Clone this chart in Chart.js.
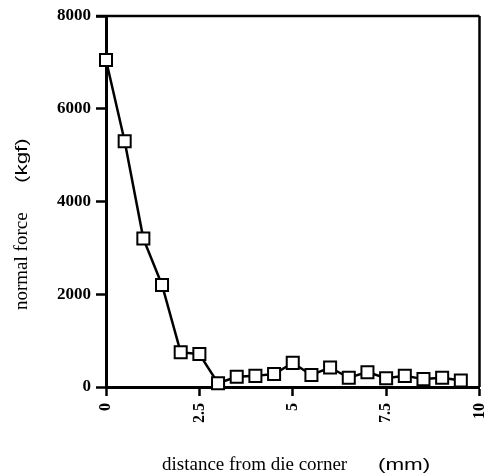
<!DOCTYPE html>
<html>
<head>
<meta charset="utf-8">
<script src="https://cdn.jsdelivr.net/npm/chart.js@4/dist/chart.umd.min.js"></script>
<style>
html,body{margin:0;padding:0;background:#fff;}
#wrap{position:relative;width:490px;height:474px;}
</style>
</head>
<body>
<div id="wrap"><canvas id="c" width="490" height="474"></canvas></div>
<script>
const distances = [0, 0.5, 1, 1.5, 2, 2.5, 3, 3.5, 4, 4.5, 5, 5.5, 6, 6.5, 7, 7.5, 8, 8.5, 9, 9.5];
const normalForce = [7050, 5300, 3200, 2200, 750, 710, 80, 220, 240, 280, 520, 260, 420, 200, 320, 190, 240, 170, 200, 140];
const xTicks = [0, 2.5, 5, 7.5, 10];
const yTicks = [0, 2000, 4000, 6000, 8000];
const xTitle = "distance from die corner";
const xUnit = "(mm)";
const yTitle = "normal force";
const yUnit = "(kgf)";

const serif = "'Liberation Serif', 'DejaVu Serif', serif";
const sans = "'Liberation Sans', Arial, sans-serif";

function drawStretched(ctx, text, x, y, sx) {
  ctx.save();
  ctx.translate(x, y);
  ctx.scale(sx, 1);
  ctx.fillText(text, 0, 0);
  ctx.restore();
}

const framePlugin = {
  id: 'frame',
  afterDraw(chart) {
    const ctx = chart.ctx;
    const a = chart.chartArea;
    ctx.save();
    ctx.strokeStyle = '#000';
    ctx.lineWidth = 2.5;
    ctx.beginPath();
    ctx.moveTo(a.left - 10, a.top);
    ctx.lineTo(a.right, a.top);
    ctx.moveTo(a.right, a.top);
    ctx.lineTo(a.right, a.bottom);
    ctx.stroke();
    // axis titles
    ctx.fillStyle = '#000';
    ctx.textBaseline = 'alphabetic';
    ctx.textAlign = 'left';
    ctx.font = "19px " + serif;
    ctx.fillText(xTitle, 162, 470);
    ctx.font = "16px " + sans;
    drawStretched(ctx, xUnit, 378, 470, 1.4);
    // y title rotated
    ctx.save();
    ctx.translate(27, 0);
    ctx.rotate(-Math.PI / 2);
    ctx.font = "19px " + serif;
    ctx.fillText(yTitle, -310, 0);
    ctx.font = "16px " + sans;
    drawStretched(ctx, yUnit, -183, 0, 1.4);
    ctx.restore();
    ctx.restore();
  }
};

new Chart(document.getElementById('c'), {
  type: 'line',
  data: {
    datasets: [{
      data: distances.map((d, i) => ({x: d, y: normalForce[i]})),
      borderColor: '#000',
      borderWidth: 2.5,
      tension: 0,
      pointStyle: 'rect',
      pointRadius: 8.5,
      pointBorderWidth: 2,
      pointBorderColor: '#000',
      pointBackgroundColor: '#fff',
      clip: false
    }]
  },
  options: {
    responsive: false,
    animation: false,
    devicePixelRatio: 1,
    layout: {padding: {top: 16, right: 10, left: 0, bottom: 0}},
    plugins: {legend: {display: false}, tooltip: {enabled: false}},
    scales: {
      x: {
        type: 'linear',
        min: 0, max: 10,
        afterBuildTicks(s) { s.ticks = xTicks.map(v => ({value: v})); },
        afterFit(s) { s.height = 87; s.paddingLeft = 0; s.paddingRight = 0; },
        ticks: {
          color: '#000',
          font: {family: serif, size: 16, weight: 'bold'},
          minRotation: 90, maxRotation: 90,
          autoSkip: false,
          padding: 7,
          callback: v => String(v)
        },
        grid: {drawOnChartArea: false, drawTicks: true, tickLength: 9, tickWidth: 2.5, tickColor: '#000'},
        border: {display: true, color: '#000', width: 3}
      },
      y: {
        min: 0, max: 8000,
        afterBuildTicks(s) { s.ticks = yTicks.map(v => ({value: v})); },
        afterFit(s) { s.width = 106; s.paddingTop = 0; s.paddingBottom = 0; },
        ticks: {
          color: '#000',
          font: {family: serif, size: 17, weight: 'bold'},
          padding: 5,
          callback: v => String(v)
        },
        grid: {drawOnChartArea: false, drawTicks: true, tickLength: 10, tickWidth: 2.5, tickColor: '#000'},
        border: {display: true, color: '#000', width: 3}
      }
    }
  },
  plugins: [framePlugin]
});
</script>
</body>
</html>
